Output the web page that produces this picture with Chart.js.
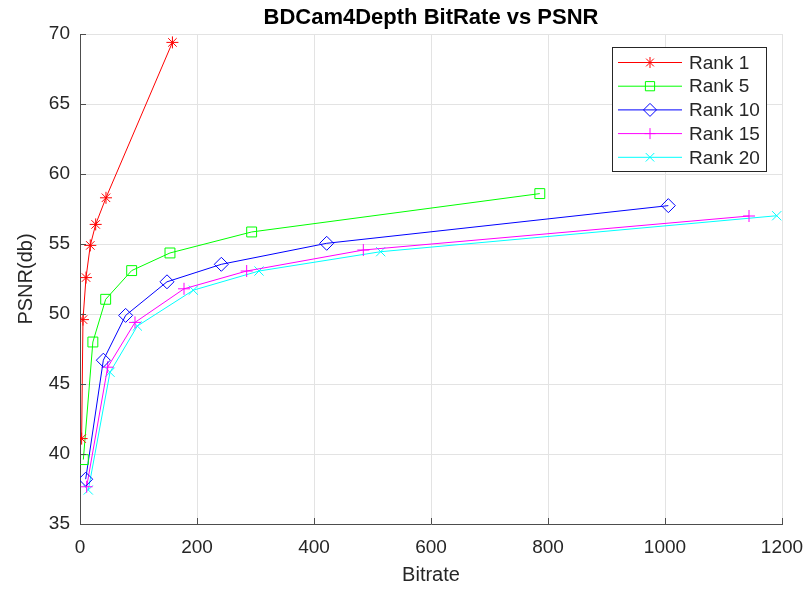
<!DOCTYPE html>
<html>
<head>
<meta charset="utf-8">
<script src="https://cdn.jsdelivr.net/npm/chart.js@4/dist/chart.umd.min.js"></script>
<style>
  body { margin: 0; background: #fff; }
  canvas { display: block; }
</style>
</head>
<body>
<canvas id="psnrChart" width="810" height="590"></canvas>
<script>
// values
var seriesNames = ['Rank 1', 'Rank 5', 'Rank 10', 'Rank 15', 'Rank 20'];

var rank1Bitrate = [2.8, 5.1, 10.3, 17.6, 26.8, 44.4, 158];
var rank1Psnr = [41.1, 49.6, 52.6, 54.9, 56.4, 58.3, 69.4];

var rank5Bitrate = [5.7, 22, 43.9, 88.3, 153.8, 293.4, 786];
var rank5Psnr = [39.6, 48.0, 51.05, 53.1, 54.36, 55.86, 58.6];

var rank10Bitrate = [9.7, 39.9, 78, 148.7, 241.6, 421.7, 1005.7];
var rank10Psnr = [38.2, 46.7, 49.9, 52.3, 53.55, 55.05, 57.74];

var rank15Bitrate = [11.4, 47.3, 94, 177.8, 284.9, 484.3, 1143.6];
var rank15Psnr = [37.66, 46.2, 49.4, 51.8, 53.07, 54.57, 57.0];

var rank20Bitrate = [14.2, 51.3, 98, 193.7, 306, 514, 1191];
var rank20Psnr = [37.43, 45.84, 49.14, 51.7, 53.07, 54.45, 57.02];

var xTicks = [0, 200, 400, 600, 800, 1000, 1200];
var yTicks = [35, 40, 45, 50, 55, 60, 65, 70];

// style per series (matlab r g b m c)
var lineColors = ['#ff0000', '#00ff00', '#0000ff', '#ff00ff', '#00ffff'];
var markers = ['star', 'rect', 'rectRot', 'cross', 'crossRot'];
var markerSizes = [6, 7, 7, 6, 6.5];

var textColor = '#262626';
var axisColor = '#4d4d4d';
var fontFamily = '"Liberation Sans", Arial, Helvetica, sans-serif';

function toPoints(xs, ys) {
  var pts = [];
  for (var i = 0; i < xs.length; i++) {
    pts.push({ x: xs[i], y: ys[i] });
  }
  return pts;
}

var allX = [rank1Bitrate, rank5Bitrate, rank10Bitrate, rank15Bitrate, rank20Bitrate];
var allY = [rank1Psnr, rank5Psnr, rank10Psnr, rank15Psnr, rank20Psnr];

var datasets = [];
for (var s = 0; s < seriesNames.length; s++) {
  datasets.push({
    label: seriesNames[s],
    data: toPoints(allX[s], allY[s]),
    borderColor: lineColors[s],
    backgroundColor: 'transparent',
    borderWidth: 1,
    pointStyle: markers[s],
    pointRadius: markerSizes[s],
    pointBorderColor: lineColors[s],
    pointBackgroundColor: 'transparent',
    pointBorderWidth: 1,
    tension: 0
  });
}

// ticks pointing inward like matlab
var innerTicks = {
  id: 'innerTicks',
  afterDraw: function(chart) {
    var ctx = chart.ctx;
    var area = chart.chartArea;
    var xs = chart.scales.x, ys = chart.scales.y;
    ctx.save();
    ctx.strokeStyle = axisColor;
    ctx.lineWidth = 1;
    ctx.beginPath();
    xTicks.forEach(function(v) {
      var px = Math.round(xs.getPixelForValue(v)) + 0.5;
      ctx.moveTo(px, area.bottom);
      ctx.lineTo(px, area.bottom - 6);
    });
    yTicks.forEach(function(v) {
      var py = Math.round(ys.getPixelForValue(v)) + 0.5;
      ctx.moveTo(area.left, py);
      ctx.lineTo(area.left + 6, py);
    });
    ctx.stroke();
    ctx.restore();
  }
};

// legend box inside the plot, line + marker per entry
var boxLegend = {
  id: 'boxLegend',
  afterDraw: function(chart) {
    var ctx = chart.ctx;
    var area = chart.chartArea;
    var boxW = 154, rowH = 23.7;
    var boxH = 124;
    var left = area.right - 16 - boxW;
    var top = area.top + 13;
    ctx.save();
    ctx.fillStyle = '#ffffff';
    ctx.fillRect(left, top, boxW, boxH);
    ctx.strokeStyle = '#262626';
    ctx.lineWidth = 1;
    ctx.strokeRect(Math.round(left) + 0.5, Math.round(top) + 0.5, boxW, boxH);
    ctx.font = '19px ' + fontFamily;
    ctx.textBaseline = 'middle';
    ctx.textAlign = 'left';
    for (var i = 0; i < seriesNames.length; i++) {
      var cy = top + 15.5 + i * rowH;
      ctx.strokeStyle = lineColors[i];
      ctx.lineWidth = 1;
      ctx.beginPath();
      ctx.moveTo(left + 6, cy);
      ctx.lineTo(left + 70, cy);
      ctx.stroke();
      if (Chart.helpers && Chart.helpers.drawPoint) {
        ctx.fillStyle = 'transparent';
        Chart.helpers.drawPoint(ctx, {
          pointStyle: markers[i],
          radius: markerSizes[i] - 0.5,
          rotation: 0,
          borderWidth: 1
        }, left + 38, cy);
      }
      ctx.fillStyle = textColor;
      ctx.fillText(seriesNames[i], left + 77, cy + 1);
    }
    ctx.restore();
  }
};

var ctx = document.getElementById('psnrChart');
var psnrChart = new Chart(ctx, {
  type: 'line',
  data: { datasets: datasets },
  options: {
    responsive: false,
    animation: false,
    devicePixelRatio: 1,
    layout: { padding: { top: 0, right: 28, bottom: 0, left: 0 } },
    plugins: {
      legend: { display: false },
      tooltip: { enabled: false },
      title: {
        display: true,
        text: 'BDCam4Depth BitRate vs PSNR',
        color: '#000',
        fullSize: false,
        font: { family: fontFamily, size: 22, weight: 'bold' },
        padding: { top: 4.5, bottom: 3.1 }
      }
    },
    scales: {
      x: {
        type: 'linear',
        min: 0,
        max: 1200,
        afterBuildTicks: function(scale) {
          scale.ticks = xTicks.map(function(v) { return { value: v }; });
        },
        afterFit: function(scale) {
          scale.height = 66;
          scale.paddingRight = 0;
        },
        grid: { color: '#e3e3e3', lineWidth: 1, drawTicks: false },
        border: { display: true, color: axisColor, width: 1 },
        ticks: {
          color: textColor,
          padding: 12,
          maxRotation: 0,
          font: { family: fontFamily, size: 19 },
          callback: function(v) { return String(v); }
        },
        title: {
          display: true,
          text: 'Bitrate',
          color: textColor,
          font: { family: fontFamily, size: 20 },
          padding: { top: 0, bottom: 3 }
        }
      },
      y: {
        type: 'linear',
        min: 35,
        max: 70,
        afterBuildTicks: function(scale) {
          scale.ticks = yTicks.map(function(v) { return { value: v }; });
        },
        afterFit: function(scale) { scale.width = 80; },
        grid: { color: '#e3e3e3', lineWidth: 1, drawTicks: false },
        border: { display: true, color: axisColor, width: 1 },
        ticks: {
          color: textColor,
          padding: 10,
          font: { family: fontFamily, size: 19 },
          callback: function(v) { return String(v); }
        },
        title: {
          display: true,
          text: 'PSNR(db)',
          color: textColor,
          font: { family: fontFamily, size: 20 },
          padding: { top: 14, bottom: 0 }
        }
      }
    }
  },
  plugins: [innerTicks, boxLegend]
});
</script>
</body>
</html>
